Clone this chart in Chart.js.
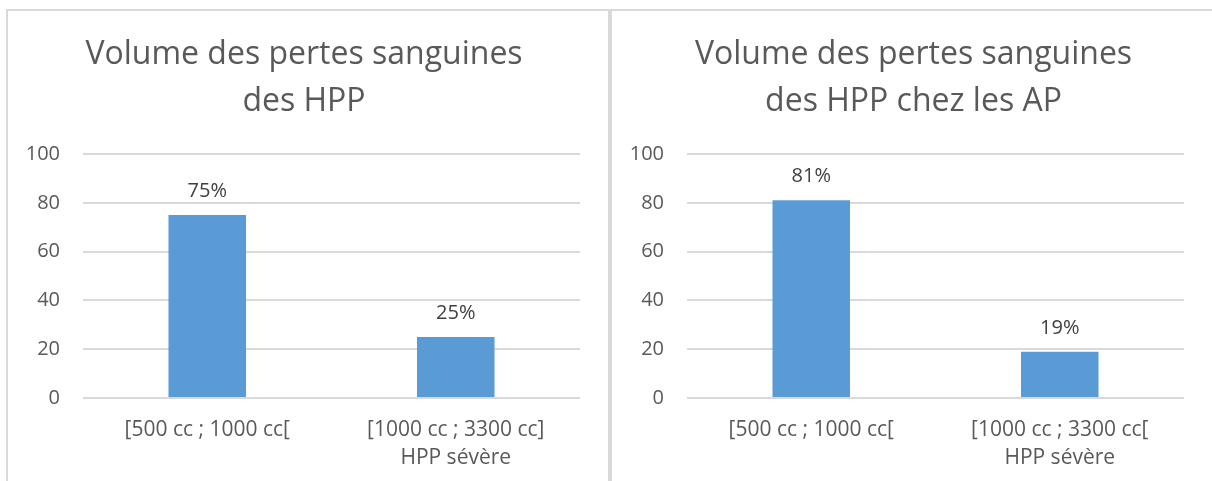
<!DOCTYPE html>
<html lang="fr">
<head>
<meta charset="utf-8">
<title>Volume des pertes sanguines des HPP</title>
<script src="https://cdn.jsdelivr.net/npm/chart.js@4/dist/chart.umd.min.js"></script>
<style>
    html, body { margin: 0; padding: 0; background: #fff; width: 1212px; height: 481px; overflow: hidden; }
    .panel { position: absolute; top: 9px; width: 600px; height: 500px; border: 2px solid #d9d9d9; background: #fff; }
    #panelA { left: 6px; }
    #panelB { left: 610px; }
    .box { position: relative; width: 600px; height: 470px; }
</style>
</head>
<body>
<div class="panel" id="panelA"><div class="box"><canvas id="chartA"></canvas></div></div>
<div class="panel" id="panelB"><div class="box"><canvas id="chartB"></canvas></div></div>

<script>
// Data
const titleA = ['Volume des pertes sanguines', 'des HPP'];
const titleB = ['Volume des pertes sanguines', 'des HPP chez les AP'];

const categoriesA = ['[500 cc ; 1000 cc[', ['[1000 cc ; 3300 cc]', 'HPP sévère']];
const categoriesB = ['[500 cc ; 1000 cc[', ['[1000 cc ; 3300 cc[', 'HPP sévère']];

const valuesA = [75, 25];
const valuesB = [81, 19];

const yTicks = [0, 20, 40, 60, 80, 100];

Chart.defaults.font.family = '"Open Sans", sans-serif';
Chart.defaults.color = '#595959';

/**
 * Draws "xx%" above each bar
 */
const barLabels = {
    id: 'barLabels',
    afterDatasetsDraw(chart) {
        const ctx = chart.ctx;
        const meta = chart.getDatasetMeta(0);
        const data = chart.data.datasets[0].data;
        ctx.save();
        ctx.font = '20px "Open Sans", sans-serif';
        ctx.fillStyle = '#404040';
        ctx.textAlign = 'center';
        ctx.textBaseline = 'alphabetic';
        meta.data.forEach((bar, i) => {
            ctx.fillText(data[i] + '%', bar.x, bar.y - 18);
        });
        ctx.restore();
    }
};

document.addEventListener('DOMContentLoaded', function() {
    // padLeft / padRight only move the title; the plot area stays 75..572
    initBarChart('chartA', titleA, categoriesA, valuesA, 0, 8);
    initBarChart('chartB', titleB, categoriesB, valuesB, 3, 0);
});

/**
 * Initialize one bar chart panel
 */
function initBarChart(id, title, labels, values, padLeft, padRight) {
    const ctx = document.getElementById(id);
    if (!ctx) return;

    new Chart(ctx.getContext('2d'), {
        type: 'bar',
        data: {
            labels: labels,
            datasets: [{
                data: values,
                backgroundColor: '#5b9bd5',
                borderWidth: 0,
                categoryPercentage: 1,
                barPercentage: 0.312
            }]
        },
        plugins: [barLabels],
        options: {
            responsive: true,
            maintainAspectRatio: false,
            animation: false,
            events: [],
            layout: {
                padding: { left: padLeft, right: padRight, top: 0, bottom: 0 }
            },
            plugins: {
                legend: { display: false },
                tooltip: { enabled: false },
                title: {
                    display: true,
                    text: title,
                    color: '#595959',
                    font: { size: 32, weight: 'normal', lineHeight: 47 / 32 },
                    padding: { top: 20, bottom: 29 }
                }
            },
            scales: {
                y: {
                    min: yTicks[0],
                    max: yTicks[yTicks.length - 1],
                    afterBuildTicks: function(scale) {
                        scale.ticks = yTicks.map(v => ({ value: v }));
                    },
                    afterFit: function(scale) {
                        scale.width = 75 - padLeft;
                    },
                    border: { display: false },
                    grid: {
                        color: '#d9d9d9',
                        lineWidth: 2,
                        drawTicks: false
                    },
                    ticks: {
                        color: '#595959',
                        padding: 23,
                        font: { size: 20 }
                    }
                },
                // empty spacer on the right so the plot ends where the gridlines end
                spacer: {
                    type: 'linear',
                    position: 'right',
                    afterFit: function(scale) {
                        scale.width = 28 - padRight;
                    },
                    border: { display: false },
                    grid: { display: false, drawTicks: false },
                    ticks: { display: false }
                },
                x: {
                    afterFit: function(scale) {
                        scale.height = 83;
                    },
                    border: { display: false },
                    grid: {
                        display: false,
                        drawTicks: false
                    },
                    ticks: {
                        color: '#595959',
                        padding: 18,
                        maxRotation: 0,
                        autoSkip: false,
                        font: { size: 21, lineHeight: 28 / 21 }
                    }
                }
            }
        }
    });
}
</script>
</body>
</html>
